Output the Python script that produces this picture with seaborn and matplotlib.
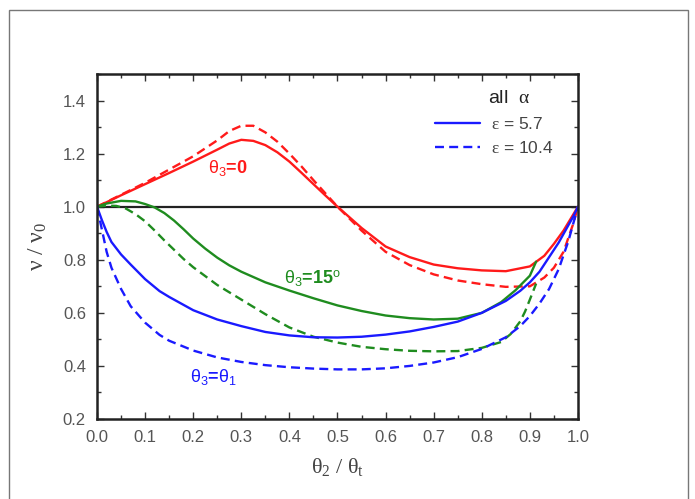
import pandas as pd
import matplotlib
matplotlib.use("Agg")
import matplotlib.pyplot as plt
import seaborn as sns
from matplotlib.lines import Line2D
from matplotlib.patches import Rectangle
from matplotlib.ticker import MultipleLocator

# --- data (x = theta2/theta_t, y = nu/nu0) ---
red_x = [0, 0.02, 0.05, 0.1, 0.15, 0.2, 0.25, 0.275, 0.3, 0.325, 0.35, 0.375, 0.4, 0.425,
         0.45, 0.475, 0.5, 0.55, 0.6, 0.65, 0.7, 0.75, 0.8, 0.85, 0.9, 0.93, 0.95, 0.97, 0.99, 1.0]
red_solid = [1.0, 1.017, 1.043, 1.085, 1.127, 1.17, 1.215, 1.238, 1.252, 1.248, 1.232, 1.205, 1.17, 1.128,
             1.085, 1.042, 1.0, 0.92, 0.85, 0.81, 0.782, 0.768, 0.76, 0.757, 0.775, 0.815, 0.86, 0.91, 0.97, 1.0]
red_dash = [1.0, 1.018, 1.045, 1.09, 1.14, 1.19, 1.25, 1.285, 1.305, 1.305, 1.28, 1.245, 1.2, 1.152,
            1.1, 1.05, 1.0, 0.91, 0.83, 0.78, 0.745, 0.722, 0.708, 0.698, 0.7, 0.733, 0.77, 0.83, 0.935, 1.0]

green_solid_x = [0, 0.02, 0.05, 0.08, 0.1, 0.12, 0.14, 0.16, 0.18, 0.2, 0.225, 0.25, 0.275, 0.3, 0.35,
                 0.4, 0.45, 0.5, 0.55, 0.6, 0.65, 0.7, 0.75, 0.8, 0.84, 0.87, 0.9, 0.913]
green_solid = [1.0, 1.012, 1.022, 1.02, 1.01, 0.997, 0.976, 0.948, 0.915, 0.88, 0.842, 0.808, 0.779, 0.755, 0.715,
               0.684, 0.655, 0.628, 0.607, 0.59, 0.58, 0.575, 0.578, 0.6, 0.64, 0.685, 0.74, 0.793]
green_dash_x = [0, 0.02, 0.04, 0.06, 0.08, 0.1, 0.12, 0.14, 0.16, 0.18, 0.2, 0.25, 0.3, 0.35, 0.4, 0.45, 0.5,
                0.55, 0.6, 0.65, 0.7, 0.75, 0.8, 0.84, 0.86, 0.88, 0.89, 0.9, 0.913]
green_dash = [1.0, 1.004, 1.003, 0.993, 0.972, 0.945, 0.91, 0.873, 0.838, 0.803, 0.772, 0.705, 0.65, 0.595, 0.545,
              0.51, 0.488, 0.472, 0.463, 0.457, 0.455, 0.456, 0.468, 0.49, 0.52, 0.568, 0.605, 0.65, 0.71]

blue_x = [0, 0.01, 0.02, 0.03, 0.05, 0.07, 0.1, 0.13, 0.15, 0.2, 0.25, 0.3, 0.35, 0.4, 0.45, 0.5,
          0.55, 0.6, 0.65, 0.7, 0.75, 0.8, 0.85, 0.88, 0.9, 0.92, 0.94, 0.96, 0.98, 0.99, 1.0]
blue_solid = [1.0, 0.95, 0.905, 0.867, 0.82, 0.782, 0.727, 0.682, 0.66, 0.61, 0.575, 0.55, 0.528, 0.515, 0.508, 0.507,
              0.51, 0.518, 0.53, 0.547, 0.567, 0.6, 0.645, 0.683, 0.715, 0.755, 0.81, 0.865, 0.93, 0.962, 1.0]
blue_dash = [1.0, 0.915, 0.83, 0.77, 0.69, 0.625, 0.563, 0.517, 0.495, 0.458, 0.432, 0.415, 0.403, 0.395, 0.39, 0.387,
             0.387, 0.391, 0.4, 0.413, 0.433, 0.464, 0.508, 0.55, 0.588, 0.635, 0.69, 0.765, 0.87, 0.935, 1.0]

curves = [
    ("0", "5.7", red_x, red_solid),
    ("0", "10.4", red_x, red_dash),
    ("15", "5.7", green_solid_x, green_solid),
    ("15", "10.4", green_dash_x, green_dash),
    ("t1", "5.7", blue_x, blue_solid),
    ("t1", "10.4", blue_x, blue_dash),
]
rows = []
for th, eps, xs, ys in curves:
    for xv, yv in zip(xs, ys):
        rows.append({"x": xv, "y": yv, "theta3": th, "eps": eps})
df = pd.DataFrame(rows)

RED, GREEN, BLUE = "#ff1a1a", "#1f8c1f", "#1a1aff"
DASH = (3.8, 2.2)

sns.set_style("ticks")
plt.rcParams['font.family'] = ['Liberation Sans', 'DejaVu Sans']
plt.rcParams['mathtext.fontset'] = 'custom'
plt.rcParams['mathtext.rm'] = 'Liberation Serif'
plt.rcParams['mathtext.it'] = 'Liberation Serif:italic'
plt.rcParams['mathtext.bf'] = 'Liberation Sans:bold'
plt.rcParams['mathtext.sf'] = 'Liberation Sans'

fig = plt.figure(figsize=(6.95, 4.99), dpi=100)
ax = fig.add_axes([0.1396, 0.1603, 0.692, 0.6914])

ax.axhline(1.0, color="#222222", lw=1.6, zorder=1)

sns.lineplot(data=df, x="x", y="y", hue="theta3", style="eps",
             palette={"0": RED, "15": GREEN, "t1": BLUE},
             dashes={"5.7": "", "10.4": DASH},
             estimator=None, sort=False, lw=1.7, legend=False, ax=ax, zorder=2)

ax.set_xlim(0, 1.0)
ax.set_ylim(0.2, 1.5)
ax.xaxis.set_major_locator(MultipleLocator(0.1))
ax.xaxis.set_minor_locator(MultipleLocator(0.05))
ax.yaxis.set_minor_locator(MultipleLocator(0.1))
ax.set_yticks([0.2, 0.4, 0.6, 0.8, 1.0, 1.2, 1.4])
ax.set_xticklabels([f"{v:.1f}" for v in ax.get_xticks()])
ax.set_yticklabels([f"{v:.1f}" for v in ax.get_yticks()])

ax.tick_params(which="both", direction="in", top=True, right=True,
               color="#333333", labelcolor="#555555", labelsize=12)
ax.tick_params(which="major", length=5, width=1, pad=8)
ax.tick_params(which="minor", length=3, width=1)
for s in ax.spines.values():
    s.set_linewidth(1.8)
    s.set_color("#222222")

ax.set_xlabel(r"$\mathrm{\theta_2\ /\ \theta_t}$", fontsize=16, color="#444444", labelpad=8)
ax.set_ylabel(r"$\mathrm{\nu\ /\ \nu_0}$", fontsize=17, color="#444444", labelpad=10)

# curve labels
ax.text(0.272, 1.145, r"$\mathsf{\theta_3}$=0", color=RED, fontsize=13,
        fontweight="bold", ha="center", va="center")
ax.text(0.447, 0.727, r"$\mathsf{\theta_3}$=15$^{\mathsf{o}}$", color=GREEN, fontsize=13,
        fontweight="bold", ha="center", va="center")
ax.text(0.243, 0.36, r"$\mathsf{\theta_3}$=$\mathsf{\theta_1}$", color=BLUE, fontsize=13,
        fontweight="bold", ha="center", va="center")

# legend
handles = [Line2D([], [], color=BLUE, lw=1.7),
           Line2D([], [], color=BLUE, lw=1.7, dashes=DASH)]
ax.legend(handles, [r"$\mathrm{\varepsilon}$ = 5.7", r"$\mathrm{\varepsilon}$ = 10.4"],
          loc="upper left", bbox_to_anchor=(0.703, 0.878), frameon=False,
          borderpad=0, borderaxespad=0, handlelength=2.6, handletextpad=0.6,
          labelspacing=0.45, prop={"size": 12.5}, labelcolor="#444444")
ax.text(0.857, 0.928, r"all  $\mathrm{\alpha}$", transform=ax.transAxes, fontsize=14,
        color="#222222", ha="center", va="center")

# outer frame of the original figure
fig.add_artist(Rectangle((9 / 695, -0.02), (688 - 9) / 695, (499 - 10) / 499 + 0.02,
                         transform=fig.transFigure, fill=False, edgecolor="#777777", lw=1))

fig.savefig("out.png", dpi=100)
